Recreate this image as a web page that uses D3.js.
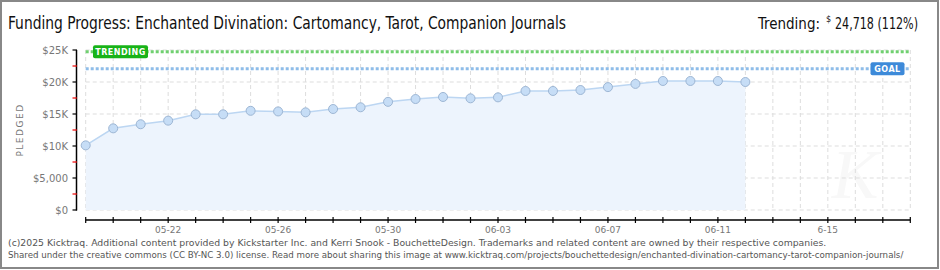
<!DOCTYPE html>
<html>
<head>
<meta charset="utf-8">
<script src="https://cdn.jsdelivr.net/npm/d3@7"></script>
<style>
  body { margin: 0; background: #fff; }
  svg { display: block; }
</style>
</head>
<body>
<svg id="chart" width="940" height="270"></svg>
<script>
// data
var days = d3.range(31); // 05-19 .. 06-18
var pledged = [10100, 12760, 13400, 13960, 14950, 14950, 15500, 15400, 15260, 15780,
  16050, 16900, 17340, 17660, 17450, 17600, 18600, 18600, 18750, 19200,
  19700, 20160, 20160, 20160, 20000];
var xLabels = [[3, '05-22'], [7, '05-26'], [11, '05-30'], [15, '06-03'], [19, '06-07'], [23, '06-11'], [27, '6-15']];
var yTicks = [0, 5000, 10000, 15000, 20000, 25000];
var yTickLabels = ['$0', '$5,000', '$10K', '$15K', '$20K', '$25K'];
var goal = 22070;
var trending = 24718;

var svg = d3.select('#chart');
var titleFont = "'DejaVu Sans Condensed', sans-serif";
var smallFont = "'DejaVu Sans', Verdana, sans-serif";

var x = d3.scaleLinear().domain([0, 30]).range([85.7, 910.3]);
var y = d3.scaleLinear().domain([0, 25000]).range([210, 50]);

// border
svg.append('rect').attr('x', 1).attr('y', 1).attr('width', 937).attr('height', 267)
  .attr('fill', 'none').attr('stroke', '#888').attr('stroke-width', 2);

// title
svg.append('text').attr('x', 8).attr('y', 29)
  .attr('font-family', titleFont).attr('font-size', 17).attr('fill', '#111')
  .attr('textLength', 558).attr('lengthAdjust', 'spacingAndGlyphs')
  .text('Funding Progress: Enchanted Divination: Cartomancy, Tarot, Companion Journals');

svg.append('text').attr('x', 758).attr('y', 29)
  .attr('font-family', titleFont).attr('font-size', 15).attr('fill', '#111')
  .attr('textLength', 62).attr('lengthAdjust', 'spacingAndGlyphs')
  .text('Trending:');
svg.append('text').attr('x', 826).attr('y', 22)
  .attr('font-family', titleFont).attr('font-size', 9).attr('fill', '#111')
  .text('$');
svg.append('text').attr('x', 835).attr('y', 29)
  .attr('font-family', titleFont).attr('font-size', 15).attr('fill', '#111')
  .attr('textLength', 83).attr('lengthAdjust', 'spacingAndGlyphs')
  .text(d3.format(',')(trending) + ' (' + Math.round(trending / goal * 100) + '%)');

// watermark K
svg.append('text').attr('x', 855).attr('y', 198)
  .attr('font-family', 'serif').attr('font-style', 'italic').attr('font-size', 70)
  .attr('fill', '#f8f8f8').attr('text-anchor', 'middle').text('K');

// grid
var grid = svg.append('g').attr('stroke', '#ddd').attr('stroke-dasharray', '4,3');
grid.selectAll('line.v').data(days).enter().append('line')
  .attr('x1', d => x(d)).attr('x2', d => x(d)).attr('y1', 50).attr('y2', 210);
grid.selectAll('line.h').data(yTicks).enter().append('line')
  .attr('x1', x(0)).attr('x2', x(30)).attr('y1', d => y(d)).attr('y2', d => y(d));

// area + line
var area = d3.area().x((d, i) => x(i)).y0(y(0)).y1(d => y(d));
svg.append('path').datum(pledged).attr('d', area).attr('fill', '#edf4fd');
var line = d3.line().x((d, i) => x(i)).y(d => y(d));
svg.append('path').datum(pledged).attr('d', line)
  .attr('fill', 'none').attr('stroke', '#bcd6f2').attr('stroke-width', 1.5);

// goal / trending lines
svg.append('line').attr('x1', x(0)).attr('x2', x(30)).attr('y1', y(trending)).attr('y2', y(trending))
  .attr('stroke', '#6fd06f').attr('stroke-width', 3).attr('stroke-dasharray', '3,2');
svg.append('line').attr('x1', x(0)).attr('x2', x(30)).attr('y1', y(goal)).attr('y2', y(goal))
  .attr('stroke', '#8ebde9').attr('stroke-width', 3).attr('stroke-dasharray', '3,2');

// points
svg.selectAll('circle.pt').data(pledged).enter().append('circle')
  .attr('cx', (d, i) => x(i)).attr('cy', d => y(d)).attr('r', 4.5)
  .attr('fill', '#c6ddf6').attr('stroke', '#9db6d4').attr('stroke-width', 1);

// tags
function tag(label, cx, cy, w, color) {
  svg.append('rect').attr('x', cx - w / 2).attr('y', cy - 6.5).attr('width', w).attr('height', 13)
    .attr('rx', 2).attr('fill', color);
  svg.append('text').attr('x', cx).attr('y', cy + 3.5).attr('text-anchor', 'middle')
    .attr('font-family', smallFont).attr('font-size', 8).attr('font-weight', 'bold')
    .attr('fill', '#fff').attr('letter-spacing', 0.5).text(label);
}
tag('TRENDING', 120.5, y(trending), 55, '#18b318');
tag('GOAL', 887.5, y(goal), 34, '#3d8ad9');

// y axis
svg.append('line').attr('x1', 76.5).attr('x2', 76.5).attr('y1', 50).attr('y2', 210.5)
  .attr('stroke', '#000').attr('stroke-width', 1.5);
svg.selectAll('line.ytick').data(yTicks).enter().append('line')
  .attr('x1', 72.5).attr('x2', 77).attr('y1', d => y(d)).attr('y2', d => y(d))
  .attr('stroke', '#000').attr('stroke-width', 1.2);
svg.selectAll('line.ymin').data(yTicks.slice(0, 5)).enter().append('line')
  .attr('x1', 72.5).attr('x2', 77).attr('y1', d => y(d + 2500)).attr('y2', d => y(d + 2500))
  .attr('stroke', '#e00').attr('stroke-width', 1.2);
svg.selectAll('text.ylab').data(yTicks).enter().append('text')
  .attr('x', 68).attr('y', d => y(d) + 4).attr('text-anchor', 'end')
  .attr('font-family', smallFont).attr('font-size', 10).attr('fill', '#777')
  .text((d, i) => yTickLabels[i]);
svg.append('text').attr('transform', 'translate(23,130) rotate(-90)')
  .attr('text-anchor', 'middle').attr('font-family', smallFont).attr('font-size', 9)
  .attr('letter-spacing', 1.5).attr('fill', '#777').text('PLEDGED');

// x axis
svg.append('line').attr('x1', x(0)).attr('x2', x(30)).attr('y1', 220).attr('y2', 220)
  .attr('stroke', '#000').attr('stroke-width', 1.5);
svg.selectAll('line.xtick').data(days).enter().append('line')
  .attr('x1', d => x(d)).attr('x2', d => x(d)).attr('y1', 217).attr('y2', 223)
  .attr('stroke', '#000').attr('stroke-width', 1.2);
svg.selectAll('text.xlab').data(xLabels).enter().append('text')
  .attr('x', d => x(d[0])).attr('y', 233).attr('text-anchor', 'middle')
  .attr('font-family', smallFont).attr('font-size', 9).attr('fill', '#777')
  .text(d => d[1]);

// footer
var foot = ['(c)2025 Kicktraq. Additional content provided by Kickstarter Inc. and Kerri Snook - BouchetteDesign. Trademarks and related content are owned by their respective companies.',
  'Shared under the creative commons (CC BY-NC 3.0) license. Read more about sharing this image at www.kicktraq.com/projects/bouchettedesign/enchanted-divination-cartomancy-tarot-companion-journals/'];
svg.append('text').attr('x', 8).attr('y', 246)
  .attr('font-family', smallFont).attr('font-size', 9.3).attr('fill', '#555')
  .text(foot[0]);
svg.append('text').attr('x', 8).attr('y', 258)
  .attr('font-family', smallFont).attr('font-size', 8.7).attr('fill', '#555')
  .text(foot[1]);
</script>
</body>
</html>
